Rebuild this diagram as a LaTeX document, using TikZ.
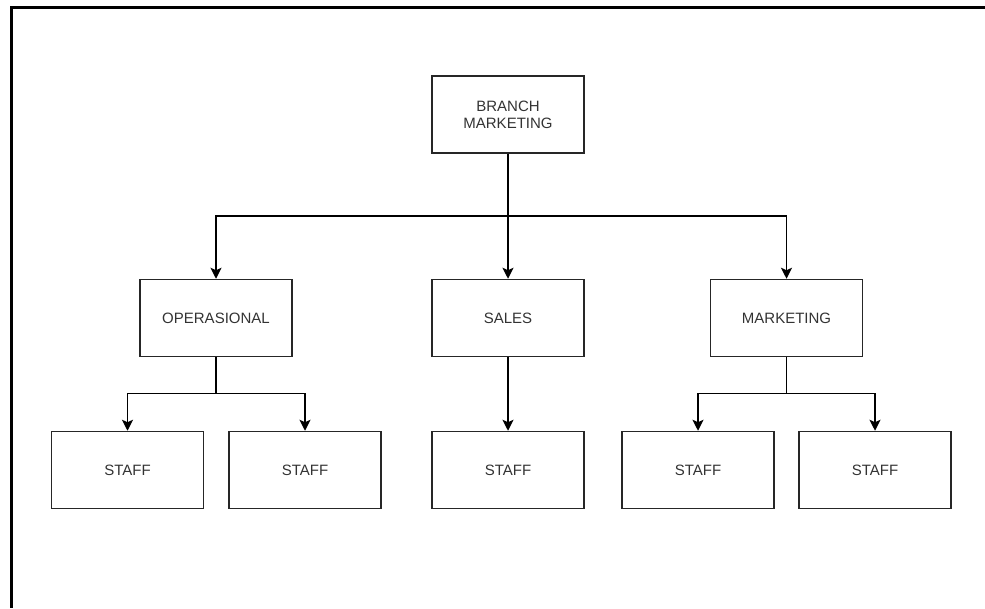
\documentclass[tikz,border=0pt]{standalone}
\usepackage{fontspec}
\setmainfont{Liberation Sans}
\usetikzlibrary{arrows.meta}
\begin{document}
\begin{tikzpicture}[x=1pt,y=-1pt,
  box/.style={draw=black!85, line width=1.5pt, minimum width=152pt, minimum height=77pt,
    inner sep=0pt, align=center, text=black!80, font=\fontsize{15}{17}\selectfont},
  arr/.style={draw=black, line width=1.5pt, -{Stealth[length=11pt,width=11pt,inset=2.5pt]}},
  frame/.style={draw=black, line width=3pt}]
\useasboundingbox (0,0) rectangle (985,608);
\coordinate (fa) at (985,7);
\coordinate (fb) at (11,7);
\coordinate (fc) at (11,608);
\draw[frame] (fa) -- (fb) -- (fc);

\node[box] (branch) at (508,114.5) {BRANCH\\MARKETING};
\node[box] (ope) at (216,318) {OPERASIONAL};
\node[box] (sales) at (508,318) {SALES};
\node[box] (mkt) at (786.5,318) {MARKETING};
\node[box] (s1) at (127.5,470) {STAFF};
\node[box] (s2) at (305,470) {STAFF};
\node[box] (s3) at (508,470) {STAFF};
\node[box] (s4) at (698,470) {STAFF};
\node[box] (s5) at (875,470) {STAFF};

\coordinate (bus1) at (508,216);
\coordinate (bus2) at (216,393.5);
\coordinate (bus3) at (786.5,393.5);

\draw[arr] (branch.south) -- (sales.north);
\draw[arr] (branch.south) -- (bus1) -| (ope.north);
\draw[arr] (branch.south) -- (bus1) -| (mkt.north);
\draw[arr] (ope.south) -- (bus2) -| (s1.north);
\draw[arr] (ope.south) -- (bus2) -| (s2.north);
\draw[arr] (sales.south) -- (s3.north);
\draw[arr] (mkt.south) -- (bus3) -| (s4.north);
\draw[arr] (mkt.south) -- (bus3) -| (s5.north);
\end{tikzpicture}
\end{document}
